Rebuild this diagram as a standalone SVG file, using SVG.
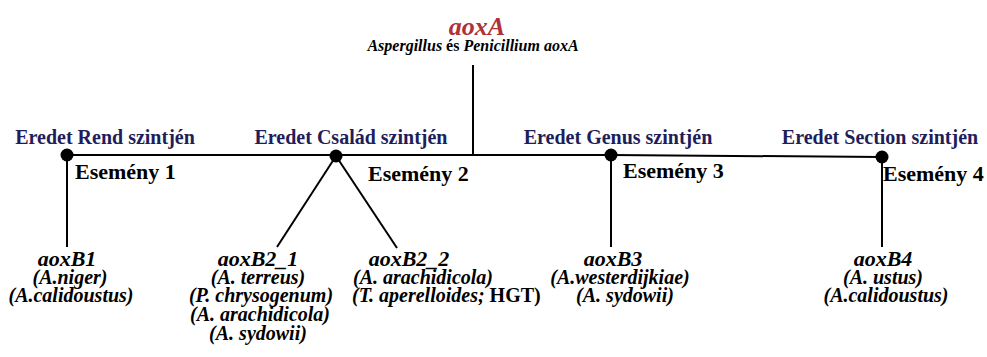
<svg xmlns="http://www.w3.org/2000/svg" width="987" height="357" viewBox="0 0 987 357">
<style>
text{font-family:"Liberation Serif","Times New Roman",serif;font-weight:bold;}
.lvl{font-size:20px;fill:#1e1e5a;text-anchor:middle;}
.ev{font-size:22px;fill:#000;}
.gene{font-size:22px;font-style:italic;fill:#000;text-anchor:middle;}
.sp{font-size:20px;font-style:italic;fill:#000;text-anchor:middle;}
.up{font-style:normal;}
.ln{stroke:#000;stroke-width:2;fill:none;}
.dot{fill:#000;}
</style>
<rect width="987" height="357" fill="#fff"/>
<g id="connectors">
<line class="ln" x1="473" y1="65" x2="473" y2="155"/>
<line class="ln" x1="67" y1="155" x2="611" y2="155"/>
<line class="ln" x1="611" y1="155" x2="882" y2="157"/>
<line class="ln" x1="67" y1="155" x2="67" y2="247"/>
<line class="ln" x1="336" y1="156" x2="277" y2="247"/>
<line class="ln" x1="336" y1="156" x2="397" y2="248"/>
<line class="ln" x1="611" y1="155" x2="611" y2="247"/>
<line class="ln" x1="882" y1="157" x2="882" y2="247"/>
</g>
<g id="aoxA">
<text x="477" y="35" style="font-size:26px;font-style:italic;fill:#b0303a;text-anchor:middle">aoxA</text>
<text x="473" y="51" style="font-size:16px;font-style:italic;text-anchor:middle">Aspergillus <tspan class="up">és</tspan> Penicillium aoxA</text>
</g>
<g id="event1">
<circle class="dot" cx="67" cy="155" r="6.5"/>
<text class="lvl" x="105" y="144">Eredet Rend szintjén</text>
<text class="ev" x="75" y="179">Esemény 1</text>
</g>
<g id="event2">
<circle class="dot" cx="336" cy="156" r="6.5"/>
<text class="lvl" x="351" y="144">Eredet Család szintjén</text>
<text class="ev" x="368" y="181">Esemény 2</text>
</g>
<g id="event3">
<circle class="dot" cx="611" cy="155" r="6.5"/>
<text class="lvl" x="618" y="144">Eredet Genus szintjén</text>
<text class="ev" x="623" y="178">Esemény 3</text>
</g>
<g id="event4">
<circle class="dot" cx="882" cy="157" r="6.5"/>
<text class="lvl" x="880" y="144">Eredet Section szintjén</text>
<text class="ev" x="883" y="181">Esemény 4</text>
</g>
<g id="aoxB1">
<text class="gene" x="67" y="266">aoxB1</text>
<text class="sp" x="70" y="284">(A.niger)</text>
<text class="sp" x="71" y="302">(A.calidoustus)</text>
</g>
<g id="aoxB2_1">
<text class="gene" x="258" y="266">aoxB2_1</text>
<text class="sp" x="258" y="284">(A. terreus)</text>
<text class="sp" x="261" y="302">(P. chrysogenum)</text>
<text class="sp" x="260" y="321">(A. arachidicola)</text>
<text class="sp" x="258" y="340">(A. sydowii)</text>
</g>
<g id="aoxB2_2">
<text class="gene" x="409" y="266">aoxB2_2</text>
<text class="sp" x="353" y="284" style="text-anchor:start">(A. arachidicola)</text>
<text class="sp" x="352" y="302" style="text-anchor:start">(T. aperelloides; <tspan class="up">HGT)</tspan></text>
</g>
<g id="aoxB3">
<text class="gene" x="613" y="266">aoxB3</text>
<text class="sp" x="620" y="284">(A.westerdijkiae)</text>
<text class="sp" x="625" y="302">(A. sydowii)</text>
</g>
<g id="aoxB4">
<text class="gene" x="883" y="266">aoxB4</text>
<text class="sp" x="883" y="284">(A. ustus)</text>
<text class="sp" x="886" y="302">(A.calidoustus)</text>
</g>
</svg>
